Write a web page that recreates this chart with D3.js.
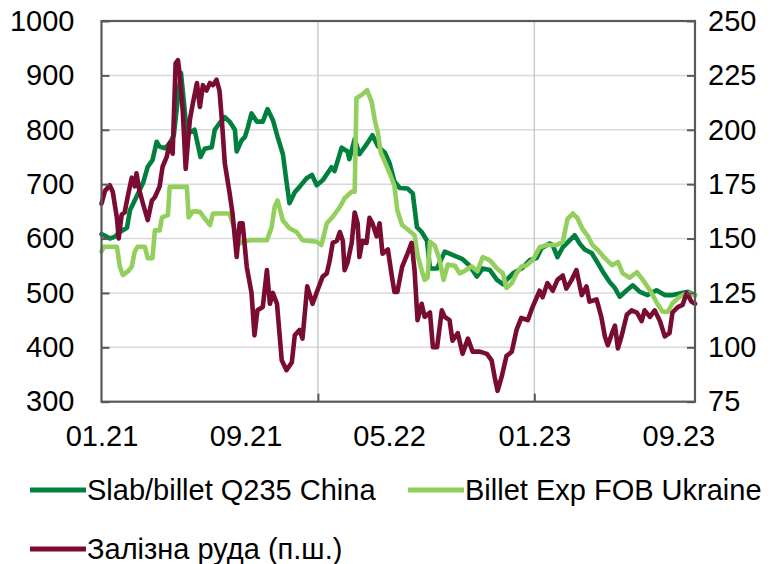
<!DOCTYPE html>
<html>
<head>
<meta charset="utf-8">
<script src="https://cdn.jsdelivr.net/npm/d3@7"></script>
<style>
  html, body { margin: 0; padding: 0; background: #fff; }
  svg { display: block; font-family: "Liberation Sans", Arial, sans-serif; }
</style>
</head>
<body>
<svg id="chart" width="772" height="564"></svg>
<script>
// Weekly prices, USD/t. China and Ukraine on the left axis, iron ore on the right axis.
const china = [
["2021-01-01",608],["2021-01-07",605],["2021-01-15",600],["2021-01-23",603],["2021-02-01",612],["2021-02-13",620],["2021-02-18",652],["2021-02-26",670],["2021-03-12",702],["2021-03-20",732],["2021-03-28",744],["2021-04-04",778],["2021-04-09",769],["2021-04-18",766],["2021-04-26",775],["2021-05-03",790],["2021-05-10",860],["2021-05-15",905],["2021-05-20",850],["2021-05-25",795],["2021-05-30",795],["2021-06-07",800],["2021-06-17",750],["2021-06-24",765],["2021-07-06",768],["2021-07-11",800],["2021-07-19",812],["2021-07-28",823],["2021-08-05",815],["2021-08-14",800],["2021-08-17",760],["2021-08-25",780],["2021-08-31",787],["2021-09-05",805],["2021-09-11",830],["2021-09-20",815],["2021-09-30",815],["2021-10-08",838],["2021-10-17",818],["2021-10-25",787],["2021-11-03",755],["2021-11-09",705],["2021-11-14",665],["2021-11-23",685],["2021-12-01",695],["2021-12-13",711],["2021-12-22",717],["2021-12-30",698],
["2022-01-09",707],["2022-01-24",731],["2022-01-29",724],["2022-02-10",767],["2022-02-20",760],["2022-02-23",746],["2022-03-04",783],["2022-03-12",755],["2022-03-24",773],["2022-04-03",790],["2022-04-12",770],["2022-04-24",758],["2022-05-02",738],["2022-05-10",705],["2022-05-19",693],["2022-06-01",692],["2022-06-10",683],["2022-06-17",621],["2022-06-25",612],["2022-07-04",596],["2022-07-09",545],["2022-07-21",545],["2022-08-03",576],["2022-08-16",570],["2022-09-02",562],["2022-09-14",550],["2022-09-26",530],["2022-10-06",545],["2022-10-18",542],["2022-10-30",524],["2022-11-09",516],["2022-11-17",526],["2022-11-26",536],["2022-12-12",546],["2022-12-24",560],
["2023-01-05",564],["2023-01-13",582],["2023-01-27",591],["2023-02-01",588],["2023-02-09",566],["2023-02-18",584],["2023-03-02",597],["2023-03-10",606],["2023-03-19",590],["2023-03-27",580],["2023-04-08",573],["2023-04-18",555],["2023-04-26",540],["2023-05-08",520],["2023-05-17",509],["2023-05-25",493],["2023-06-06",505],["2023-06-16",514],["2023-06-28",502],["2023-07-11",496],["2023-07-26",505],["2023-08-09",496],["2023-08-22",496],["2023-09-07",500],["2023-09-17",502],["2023-09-29",496]
];

const ukraine = [
["2021-01-01",576],["2021-01-05",585],["2021-01-27",585],["2021-02-01",548],["2021-02-06",533],["2021-02-14",539],["2021-02-21",548],["2021-02-26",576],["2021-03-03",585],["2021-03-15",585],["2021-03-20",564],["2021-03-28",564],["2021-04-01",615],["2021-04-09",615],["2021-04-13",639],["2021-04-23",643],["2021-04-26",695],["2021-05-25",695],["2021-05-28",639],["2021-06-04",650],["2021-06-16",649],["2021-06-24",637],["2021-07-03",625],["2021-07-08",646],["2021-08-05",646],["2021-08-10",628],["2021-08-22",591],["2021-09-08",597],["2021-10-07",597],["2021-10-15",621],["2021-10-20",658],["2021-10-25",670],["2021-11-03",633],["2021-11-14",619],["2021-11-26",612],["2021-12-06",597],["2021-12-30",594],
["2022-01-07",588],["2022-01-16",628],["2022-01-26",640],["2022-02-07",658],["2022-02-15",674],["2022-02-27",686],["2022-03-04",686],["2022-03-07",858],["2022-03-17",865],["2022-03-25",873],["2022-04-02",850],["2022-04-07",817],["2022-04-12",795],["2022-04-17",758],["2022-04-24",741],["2022-05-02",720],["2022-05-10",697],["2022-05-15",652],["2022-05-23",625],["2022-06-01",617],["2022-06-13",606],["2022-06-18",570],["2022-06-25",542],["2022-06-30",524],["2022-07-05",528],["2022-07-09",594],["2022-07-17",587],["2022-07-25",562],["2022-08-01",524],["2022-08-08",552],["2022-08-20",550],["2022-08-28",536],["2022-09-05",540],["2022-09-17",549],["2022-09-27",540],["2022-10-06",566],["2022-10-18",560],["2022-10-30",545],["2022-11-09",536],["2022-11-15",509],["2022-11-24",518],["2022-12-02",536],["2022-12-10",548],["2022-12-19",551],["2022-12-29",560],
["2023-01-10",584],["2023-01-22",588],["2023-02-08",588],["2023-02-18",594],["2023-02-26",636],["2023-03-07",646],["2023-03-15",637],["2023-03-23",618],["2023-04-01",605],["2023-04-09",588],["2023-04-18",579],["2023-04-30",564],["2023-05-12",551],["2023-05-22",557],["2023-05-30",536],["2023-06-11",528],["2023-06-23",538],["2023-07-03",524],["2023-07-15",505],["2023-07-26",483],["2023-08-05",466],["2023-08-14",465],["2023-08-22",481],["2023-09-03",493],["2023-09-17",500],["2023-09-29",495]
];

const ore = [
["2021-01-01",166],["2021-01-07",172],["2021-01-15",174.5],["2021-01-20",171.5],["2021-01-27",159.5],["2021-01-30",150],["2021-02-04",161],["2021-02-09",162],["2021-02-14",169],["2021-02-21",178],["2021-02-26",174],["2021-03-01",180],["2021-03-06",172],["2021-03-12",166],["2021-03-20",158.5],["2021-03-27",167.5],["2021-04-01",169],["2021-04-09",174],["2021-04-14",183],["2021-04-21",187.5],["2021-04-26",194],["2021-05-01",189],["2021-05-06",230.5],["2021-05-10",232],["2021-05-13",225],["2021-05-18",209],["2021-05-23",182],["2021-05-30",204.5],["2021-06-04",212],["2021-06-11",221.5],["2021-06-16",210.5],["2021-06-21",220.5],["2021-06-27",218],["2021-07-03",221.5],["2021-07-08",220.5],["2021-07-14",223],["2021-07-19",218],["2021-07-23",204.5],["2021-07-28",184.5],["2021-08-05",171],["2021-08-10",161.5],["2021-08-17",141.5],["2021-08-22",157],["2021-08-27",157],["2021-09-03",137],["2021-09-11",125],["2021-09-16",105.5],["2021-09-21",117],["2021-09-30",118.5],["2021-10-07",135.5],["2021-10-12",120],["2021-10-17",125],["2021-10-24",120],["2021-11-01",94],["2021-11-09",89.5],["2021-11-18",93],["2021-11-23",105.5],["2021-12-01",108],["2021-12-06",104],["2021-12-14",128],["2021-12-23",120],["2021-12-31",126],
["2022-01-09",132.5],["2022-01-16",134],["2022-01-21",140],["2022-01-26",148],["2022-02-02",149],["2022-02-07",153],["2022-02-12",149],["2022-02-15",135.5],["2022-02-20",139],["2022-02-27",148],["2022-03-04",162],["2022-03-09",157],["2022-03-12",141.5],["2022-03-17",149],["2022-03-24",148],["2022-03-29",159.5],["2022-04-03",157],["2022-04-10",151],["2022-04-15",157],["2022-04-20",143],["2022-04-29",145],["2022-05-05",134],["2022-05-10",125.5],["2022-05-15",125.5],["2022-05-23",137],["2022-06-01",143],["2022-06-08",148],["2022-06-13",135.5],["2022-06-18",112.5],["2022-06-25",120],["2022-06-30",114],["2022-07-09",116],["2022-07-14",100],["2022-07-21",100],["2022-07-29",117],["2022-08-03",114],["2022-08-11",112.5],["2022-08-16",103],["2022-08-25",106.5],["2022-09-02",97],["2022-09-11",104],["2022-09-19",98],["2022-10-01",98],["2022-10-13",97],["2022-10-21",94],["2022-10-26",86.5],["2022-10-31",80],["2022-11-07",86.5],["2022-11-15",96],["2022-11-24",98],["2022-12-02",108],["2022-12-10",113.5],["2022-12-21",112.5],["2022-12-29",118.5],
["2023-01-10",126],["2023-01-15",123],["2023-01-23",129.5],["2023-02-01",126],["2023-02-09",131],["2023-02-18",133],["2023-02-24",127],["2023-03-05",131],["2023-03-13",135.5],["2023-03-22",124],["2023-03-30",128],["2023-04-04",121],["2023-04-16",122],["2023-04-24",114],["2023-04-30",105],["2023-05-05",101],["2023-05-12",106.5],["2023-05-17",110],["2023-05-22",99.5],["2023-05-28",105],["2023-06-06",115],["2023-06-14",117],["2023-06-23",116],["2023-07-01",112],["2023-07-06",117],["2023-07-15",114],["2023-07-23",117],["2023-08-01",112],["2023-08-09",105],["2023-08-17",106.5],["2023-08-22",116],["2023-08-31",118.5],["2023-09-08",119.5],["2023-09-15",125],["2023-09-23",121],["2023-09-29",120]
];

const seriesNames = ["Slab/billet Q235 China", "Billet Exp FOB Ukraine", "Залізна руда (п.ш.)"];
const leftTicks = [300, 400, 500, 600, 700, 800, 900, 1000];
const rightTicks = [75, 100, 125, 150, 175, 200, 225, 250];
const xLabelDates = ["2021-01-01", "2021-09-01", "2022-05-01", "2023-01-01", "2023-09-01"];
const yearDates = ["2022-01-01", "2023-01-01"];
const dateRange = ["2021-01-01", "2023-09-29"];

// ---- drawing ----
const parse = d3.timeParse("%Y-%m-%d");
const svg = d3.select("#chart");
const plot = { left: 101.5, right: 695, top: 21, bottom: 401.7 };
const colors = ["#007F3E", "#92CF5C", "#7A0B33"];
const fontSize = 29;

const x = d3.scaleTime().domain(dateRange.map(parse)).range([plot.left, plot.right]);
const yL = d3.scaleLinear().domain([300, 1000]).range([plot.bottom, plot.top]);
const yR = d3.scaleLinear().domain([75, 250]).range([plot.bottom, plot.top]);

// horizontal gridlines
svg.append("g").selectAll("line").data(leftTicks.slice(1, -1)).join("line")
  .attr("x1", plot.left).attr("x2", plot.right)
  .attr("y1", d => yL(d)).attr("y2", d => yL(d))
  .attr("stroke", "#d9d9d9").attr("stroke-width", 1.5);

// vertical gridlines at each new year
svg.append("g").selectAll("line").data(yearDates.map(parse)).join("line")
  .attr("x1", d => x(d)).attr("x2", d => x(d))
  .attr("y1", plot.top).attr("y2", plot.bottom)
  .attr("stroke", "#c8ccd0").attr("stroke-width", 1.5);

// series lines
const lineL = d3.line().x(d => x(parse(d[0]))).y(d => yL(d[1]));
const lineR = d3.line().x(d => x(parse(d[0]))).y(d => yR(d[1]));
const series = [
  { data: china, line: lineL },
  { data: ukraine, line: lineL },
  { data: ore, line: lineR }
];
svg.append("g").selectAll("path").data(series).join("path")
  .attr("d", s => s.line(s.data))
  .attr("fill", "none")
  .attr("stroke", (s, i) => colors[i])
  .attr("stroke-width", 4.6)
  .attr("stroke-linejoin", "round")
  .attr("stroke-linecap", "round");

// plot frame
svg.append("rect")
  .attr("x", plot.left).attr("y", plot.top)
  .attr("width", plot.right - plot.left).attr("height", plot.bottom - plot.top)
  .attr("fill", "none").attr("stroke", "#595959").attr("stroke-width", 2.2);

// left axis (ticks point inward)
const axL = svg.append("g").attr("transform", `translate(${plot.left},0)`)
  .call(d3.axisLeft(yL).tickValues(leftTicks).tickSize(-8).tickPadding(27).tickFormat(d3.format("d")));
// right axis
const axR = svg.append("g").attr("transform", `translate(${plot.right},0)`)
  .call(d3.axisRight(yR).tickValues(rightTicks).tickSize(-8).tickPadding(13).tickFormat(d3.format("d")));
// bottom axis labels
const axB = svg.append("g").attr("transform", `translate(0,${plot.bottom})`)
  .call(d3.axisBottom(x).tickValues(xLabelDates.map(parse)).tickSize(0).tickPadding(24)
    .tickFormat(d3.timeFormat("%m.%y")));
// yearly tick marks on the bottom edge
const axY = svg.append("g").attr("transform", `translate(0,${plot.bottom})`)
  .call(d3.axisBottom(x).tickValues(yearDates.map(parse)).tickSize(-8).tickFormat(""));

[axL, axR, axB, axY].forEach(g => {
  g.select(".domain").remove();
  g.selectAll(".tick line").attr("stroke", "#595959").attr("stroke-width", 2);
  g.selectAll("text").attr("font-size", fontSize).attr("fill", "#000")
    .attr("font-family", "'Liberation Sans', Arial, sans-serif");
});

// legend
const legendItems = [
  { name: seriesNames[0], color: colors[0], x: 30, y: 490 },
  { name: seriesNames[1], color: colors[1], x: 408, y: 490 },
  { name: seriesNames[2], color: colors[2], x: 30, y: 549 }
];
const lg = svg.append("g").selectAll("g").data(legendItems).join("g")
  .attr("transform", d => `translate(${d.x},${d.y})`);
lg.append("line").attr("x1", 0).attr("x2", 56).attr("y1", 0).attr("y2", 0)
  .attr("stroke", d => d.color).attr("stroke-width", 5);
lg.append("text").attr("x", 57).attr("y", 0).attr("dy", "0.35em")
  .attr("font-size", fontSize).attr("fill", "#000")
  .text(d => d.name);
</script>
</body>
</html>
